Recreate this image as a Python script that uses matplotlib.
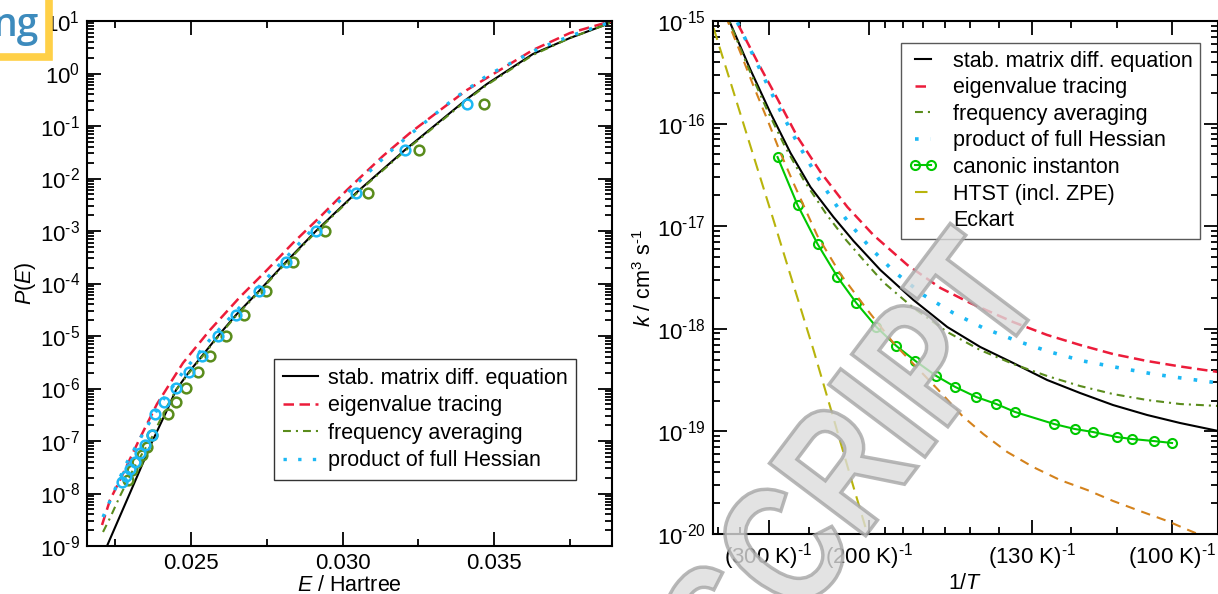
import numpy as np
import matplotlib
matplotlib.use("Agg")
import matplotlib.pyplot as plt
from matplotlib.ticker import (LogLocator, FixedLocator, NullFormatter, FixedFormatter,
                               FuncFormatter)
from matplotlib.patches import Rectangle, PathPatch
from matplotlib.textpath import TextPath
from matplotlib.font_manager import FontProperties
from matplotlib.transforms import Affine2D

plt.rcParams['font.family'] = ['Liberation Sans', 'DejaVu Sans']
plt.rcParams['mathtext.fontset'] = 'custom'
plt.rcParams['mathtext.rm'] = 'Liberation Sans'
plt.rcParams['mathtext.it'] = 'Liberation Sans:italic'
plt.rcParams['axes.linewidth'] = 1.5

# ---------------- left: P(E) ----------------
E_stab = [0.022231, 0.022989, 0.023715, 0.024242, 0.024506, 0.024934, 0.025363, 0.025890,
          0.026483, 0.027241, 0.028131, 0.029120, 0.030438, 0.032053, 0.034097, 0.034756,
          0.036272, 0.037492, 0.038645, 0.038876]
logP_stab = [-9.0, -7.990, -7.019, -6.371, -6.029, -5.686, -5.381, -5.0, -4.6, -4.143, -3.590,
             -3.0, -2.276, -1.457, -0.486, -0.2, 0.371, 0.676, 0.924, 0.981]

E_eig = [0.022067, 0.022330, 0.022660, 0.023319, 0.023879, 0.024736, 0.025626, 0.026615,
         0.027505, 0.028362, 0.029252, 0.030142, 0.031329, 0.032218, 0.033306, 0.034097,
         0.035185, 0.036272, 0.037492, 0.038645, 0.038876]
logP_eig = [-8.6, -8.124, -7.743, -6.943, -6.295, -5.514, -4.886, -4.257, -3.743, -3.229,
            -2.733, -2.219, -1.571, -1.133, -0.657, -0.314, 0.067, 0.448, 0.771, 0.962, 0.99]

E_freq = [0.022100, 0.022330, 0.022660, 0.023154, 0.023715, 0.024143, 0.024506, 0.024934,
          0.025363, 0.025890, 0.026483, 0.027241, 0.028131, 0.029120, 0.030438, 0.032053,
          0.034097, 0.034756, 0.036272, 0.037492, 0.038645, 0.038876]
logP_freq = [-8.733, -8.467, -8.048, -7.476, -6.924, -6.410, -6.029, -5.705, -5.4, -5.019,
             -4.619, -4.162, -3.610, -3.019, -2.295, -1.476, -0.505, -0.219, 0.352, 0.676,
             0.924, 0.981]

E_hess = [0.022100, 0.022825, 0.023484, 0.024077, 0.024736, 0.025725, 0.027109, 0.027999,
          0.028955, 0.030142, 0.031625, 0.032284, 0.033701, 0.034789, 0.035613, 0.036503,
          0.037591, 0.038645, 0.038876]
logP_hess = [-8.448, -7.476, -6.790, -6.219, -5.686, -5.0, -4.143, -3.590, -3.0, -2.276,
             -1.457, -1.133, -0.467, -0.029, 0.219, 0.486, 0.733, 0.943, 0.981]

# single-point values (open circles)
E_pts_blue = [0.034097, 0.032053, 0.030438, 0.029120, 0.028131, 0.027241, 0.026483, 0.025890,
              0.025363, 0.024934, 0.024506, 0.024110, 0.023813, 0.023715, 0.023484, 0.023319,
              0.023154, 0.022989, 0.022858, 0.022726]
logP_pts_blue = [-0.581, -1.457, -2.276, -3.0, -3.590, -4.143, -4.6, -5.0, -5.381, -5.686,
                 -5.990, -6.257, -6.486, -6.886, -7.076, -7.229, -7.4, -7.533, -7.667, -7.781]
E_pts_olive = [0.034657, 0.032515, 0.030834, 0.029417, 0.028362, 0.027472, 0.026747, 0.026154,
               0.025626, 0.025231, 0.024835, 0.024506, 0.024242, 0.023715, 0.023550, 0.023385,
               0.023220, 0.023055, 0.022924]
logP_pts_olive = [-0.581, -1.457, -2.276, -3.0, -3.590, -4.143, -4.6, -5.0, -5.381, -5.686,
                  -5.990, -6.257, -6.486, -6.886, -7.114, -7.267, -7.4, -7.552, -7.743]

# ---------------- right: k(T) ----------------
T_stab = [383.5, 329.3, 297.1, 270.5, 248.4, 227.0, 211.1, 193.0, 174.6, 159.1, 146.4,
          135.6, 126.0, 117.9, 110.8, 104.3, 98.7, 92.9]
logk_stab = [-14.893, -15.478, -15.897, -16.287, -16.618, -16.910, -17.144, -17.427, -17.719,
             -17.982, -18.177, -18.333, -18.499, -18.626, -18.743, -18.840, -18.918, -18.996]

T_eig = [369.5, 317.3, 287.2, 262.3, 238.6, 215.7, 197.4, 177.7, 162.0, 150.0, 135.6,
         126.0, 117.9, 110.8, 104.3, 98.7, 92.9]
logk_eig = [-14.893, -15.400, -15.760, -16.131, -16.472, -16.813, -17.086, -17.378, -17.602,
            -17.749, -17.934, -18.060, -18.158, -18.246, -18.314, -18.367, -18.421]

T_freq = [383.5, 334.8, 303.5, 277.1, 254.9, 233.3, 216.7, 202.2, 191.3, 174.6, 159.1,
          146.4, 135.6, 126.0, 117.9, 110.8, 104.3, 98.7, 92.9]
logk_freq = [-14.893, -15.439, -15.848, -16.228, -16.559, -16.881, -17.135, -17.359, -17.544,
             -17.797, -18.031, -18.207, -18.343, -18.460, -18.558, -18.636, -18.694, -18.733,
             -18.752]

T_hess = [369.5, 329.3, 301.5, 283.2, 262.3, 241.4, 223.6, 215.7, 199.3, 185.3, 169.7,
          156.6, 145.3, 134.4, 125.2, 117.2, 109.4, 103.2, 97.4, 92.9]
logk_hess = [-14.873, -15.283, -15.624, -15.877, -16.189, -16.520, -16.813, -16.949, -17.212,
             -17.437, -17.671, -17.846, -17.992, -18.119, -18.226, -18.314, -18.382, -18.441,
             -18.489, -18.528]

T_inst = [287.2, 262.3, 241.4, 223.6, 209.0, 195.5, 183.6, 173.6, 163.8, 155.8, 147.8,
          140.9, 135.0, 124.2, 119.1, 115.0, 110.0, 107.1, 103.1, 100.0]
logk_inst = [-16.326, -16.793, -17.173, -17.495, -17.749, -17.982, -18.168, -18.314, -18.460,
             -18.567, -18.665, -18.733, -18.811, -18.928, -18.977, -19.006, -19.055, -19.074,
             -19.094, -19.113]

T_htst = [412.3, 362.9, 324.1, 292.8, 267.0, 245.3, 227.0, 211.1, 201.3, 199.3]
logk_htst = [-15.068, -15.692, -16.316, -16.940, -17.573, -18.207, -18.869, -19.542, -20.0, -20.1]

T_eck = [381.1, 348.3, 324.1, 301.5, 283.2, 267.0, 251.5, 241.4, 221.2, 201.3, 185.3, 174.6,
         162.9, 153.0, 145.3, 137.4, 129.8, 122.7, 116.3, 110.8, 105.6, 100.8, 97.4, 94.1]
logk_eck = [-14.951, -15.312, -15.634, -15.965, -16.287, -16.579, -16.881, -17.096, -17.466,
            -17.817, -18.138, -18.343, -18.596, -18.850, -19.026, -19.201, -19.347, -19.474,
            -19.571, -19.678, -19.776, -19.873, -19.961, -20.049]

T_major = [300, 200, 130, 100]
T_minor = [400, 350, 250, 190, 180, 170, 160, 150, 140, 120, 110]

labels = ['stab. matrix diff. equation', 'eigenvalue tracing', 'frequency averaging',
          'product of full Hessian']

c_black = 'black'
c_red = '#ec1c3a'
c_olive = '#5a8c1c'
c_blue = '#1cb8f4'
c_green = '#00c800'
c_yellow = '#b8b40c'
c_orange = '#d4821c'


def decade(v, pos):
    return r'$10^{\text{%d}}$' % int(round(np.log10(v)))


def style_axes(ax):
    ax.tick_params(which='both', direction='in', top=True, right=True, width=1.3,
                   labelsize=16)
    ax.tick_params(which='major', length=10)
    ax.tick_params(which='minor', length=5)
    ax.tick_params(axis='x', pad=5)
    ax.tick_params(axis='y', pad=5)
    ax.yaxis.set_major_locator(LogLocator(base=10, numticks=20))
    ax.yaxis.set_major_formatter(FuncFormatter(decade))
    ax.yaxis.set_minor_locator(LogLocator(base=10, subs=np.arange(2, 10), numticks=200))
    ax.yaxis.set_minor_formatter(NullFormatter())


leg_kw = dict(borderaxespad=0, fontsize=15.5, frameon=True, fancybox=False, framealpha=1)

fig = plt.figure(figsize=(12.18, 5.94), dpi=100)

# ---------- P(E) ----------
ax1 = fig.add_axes([87 / 1218, 1 - 546 / 594, 525 / 1218, 525 / 594])
ax1.plot(E_stab, 10 ** np.array(logP_stab), color=c_black, lw=1.5, label=labels[0])
ax1.plot(E_eig, 10 ** np.array(logP_eig), color=c_red, lw=1.8, dashes=(4.2, 2.2), label=labels[1])
ax1.plot(E_freq, 10 ** np.array(logP_freq), color=c_olive, lw=1.5,
         dashes=(3.8, 2.4, 1.0, 2.4), label=labels[2])
ax1.plot(E_hess, 10 ** np.array(logP_hess), color=c_blue, lw=2.4, dashes=(1, 3.4),
         label=labels[3])
ax1.plot(E_pts_olive, 10 ** np.array(logP_pts_olive), 'o', mfc='none', mec=c_olive, ms=7, mew=1.8)
ax1.plot(E_pts_blue, 10 ** np.array(logP_pts_blue), 'o', mfc='none', mec=c_blue, ms=7, mew=1.8)

ax1.set_yscale('log')
ax1.set_xlim(0.021572, 0.038879)
ax1.set_ylim(1e-9, 1e1)
ax1.xaxis.set_major_locator(FixedLocator([0.025, 0.030, 0.035]))
ax1.xaxis.set_major_formatter(FixedFormatter(['0.025', '0.030', '0.035']))
ax1.xaxis.set_minor_locator(FixedLocator([0.0225, 0.0275, 0.0325, 0.0375]))
style_axes(ax1)
ax1.set_xlabel('$E$ / Hartree', fontsize=15.5, labelpad=0.5)
ax1.set_ylabel('$P$($E$)', fontsize=15.5, labelpad=1)
ax1.legend(loc='lower left', bbox_to_anchor=(0.356, 0.126), edgecolor='0.2',
           handlelength=1.63, handletextpad=0.47, labelspacing=0.30, borderpad=0.4, **leg_kw)

# ---------- k(T) ----------
ax2 = fig.add_axes([713 / 1218, 1 - 534 / 594, 504.5 / 1218, 513 / 594])
inv = lambda T: 1.0 / np.array(T, dtype=float)
ax2.plot(inv(T_stab), 10 ** np.array(logk_stab), color=c_black, lw=1.5, label=labels[0])
ax2.plot(inv(T_eig), 10 ** np.array(logk_eig), color=c_red, lw=1.8, dashes=(4.2, 2.2),
         label=labels[1])
ax2.plot(inv(T_freq), 10 ** np.array(logk_freq), color=c_olive, lw=1.5,
         dashes=(3.8, 2.4, 1.0, 2.4), label=labels[2])
ax2.plot(inv(T_hess), 10 ** np.array(logk_hess), color=c_blue, lw=2.6, dashes=(1, 3.4),
         label=labels[3])
ax2.plot(inv(T_inst), 10 ** np.array(logk_inst), color=c_green, lw=1.5, marker='o', mfc='none',
         ms=6.5, mew=1.5, label='canonic instanton')
ax2.plot(inv(T_htst), 10 ** np.array(logk_htst), color=c_yellow, lw=1.5, dashes=(6, 3.4),
         label='HTST (incl. ZPE)')
ax2.plot(inv(T_eck), 10 ** np.array(logk_eck), color=c_orange, lw=1.5, dashes=(4.5, 3.4),
         label='Eckart')

ax2.set_yscale('log')
ax2.set_xlim(0.0024158, 0.010751)
ax2.set_ylim(1e-20, 1e-15)
ax2.xaxis.set_major_locator(FixedLocator(1.0 / np.array(T_major, dtype=float)))
ax2.xaxis.set_major_formatter(FixedFormatter([r'(%d K)$^{\text{-1}}$' % t for t in T_major]))
ax2.xaxis.set_minor_locator(FixedLocator(1.0 / np.array(T_minor, dtype=float)))
style_axes(ax2)
ax2.set_xlabel('1/$T$', fontsize=15.5, labelpad=0.5)
ax2.set_ylabel(r'$k$ / cm$^3$ s$^{\text{-1}}$', fontsize=15.5, labelpad=1)
ax2.legend(loc='upper right', bbox_to_anchor=(0.966, 0.957), edgecolor='0.35',
           handlelength=1.35, handletextpad=0.74, labelspacing=0.26, borderpad=0.35,
           numpoints=2, **leg_kw)

# ---------- watermark ----------
wm = TextPath((0, 0), 'MANUSCRIPT', size=1,
              prop=FontProperties(family='Liberation Sans', weight='bold'))
ext = wm.get_extents()
em = 1.75
tr = (Affine2D().translate(-(ext.x1 - 0.285), 0).scale(0.78 * em, em).rotate_deg(53)
      .translate(10.23, 2.67) + fig.dpi_scale_trans)
fig.add_artist(PathPatch(wm, transform=tr, facecolor='#dcdcdc', edgecolor='#a6a6a6', lw=2.5,
                         alpha=0.8, zorder=10))

# ---------- corner logo ----------
fig.add_artist(Rectangle((-20 / 1218, 1 - 57 / 594), 69 / 1218, 80 / 594,
                         transform=fig.transFigure, facecolor='white', edgecolor='#ffd047',
                         lw=5.5, zorder=11))
fig.text(39 / 1218, 1 - 36 / 594, 'ng', color='#3d8bbd', fontsize=28, fontweight='semibold',
         family=['Open Sans', 'DejaVu Sans'], ha='right', va='baseline', zorder=12)

fig.savefig('out.png', dpi=100)
